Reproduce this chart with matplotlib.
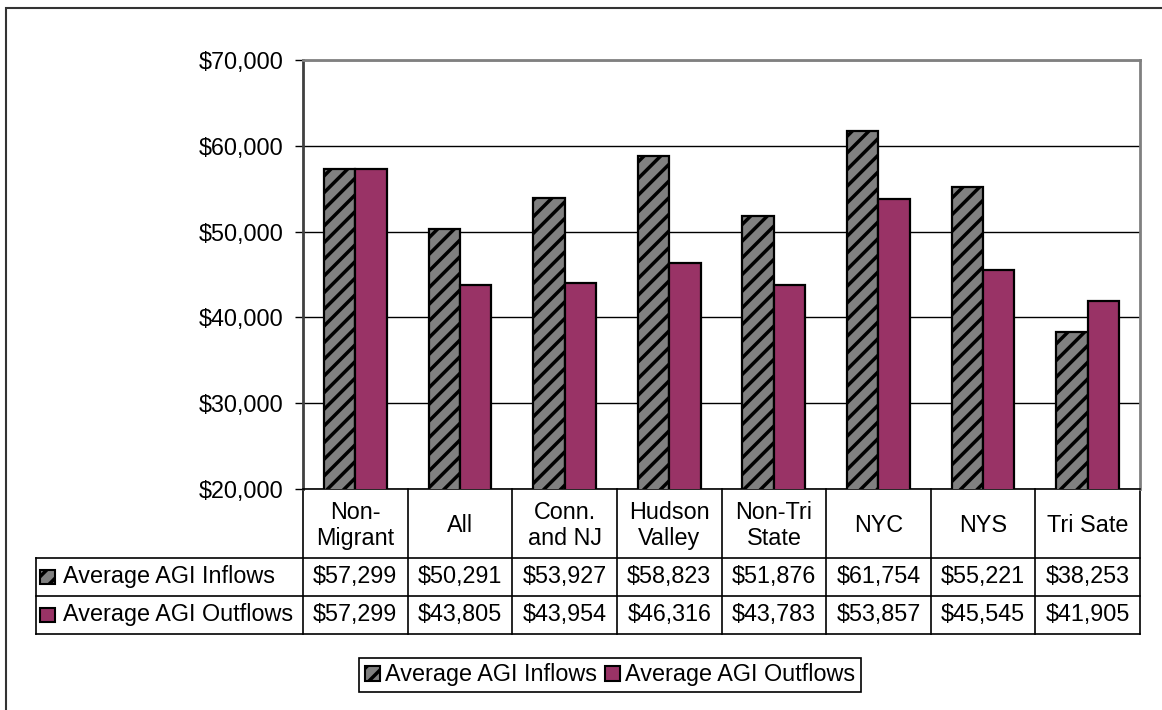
import matplotlib.pyplot as plt
from matplotlib.patches import Rectangle, Patch

categories = ["Non-\nMigrant", "All", "Conn.\nand NJ", "Hudson\nValley",
              "Non-Tri\nState", "NYC", "NYS", "Tri Sate"]
inflows = [57299, 50291, 53927, 58823, 51876, 61754, 55221, 38253]
outflows = [57299, 43805, 43954, 46316, 43783, 53857, 45545, 41905]
series = ["Average AGI Inflows", "Average AGI Outflows"]
yticks = [20000, 30000, 40000, 50000, 60000, 70000]

gray = '#808080'
plum = '#993366'
fs = 16.8

plt.rcParams['font.family'] = ['Liberation Sans', 'DejaVu Sans']
plt.rcParams['hatch.linewidth'] = 2.5

fig = plt.figure(figsize=(11.62, 7.10), dpi=100)
ax = fig.add_axes([303/1162, 1 - 489/710, 837/1162, 429/710])

x = list(range(len(categories)))
w = 0.3
ax.bar([i - w/2 for i in x], inflows, width=w, color=gray, edgecolor='black',
       hatch='//', linewidth=1.6, zorder=3)
ax.bar([i + w/2 for i in x], outflows, width=w, color=plum, edgecolor='black',
       linewidth=1.6, zorder=3)

ax.set_xlim(-0.5, len(categories) - 0.5)
ax.set_ylim(yticks[0], yticks[-1])
ax.set_yticks(yticks)
ax.set_yticklabels([f"${v:,}" for v in yticks])
ax.set_xticks([])
ax.yaxis.grid(True, color='black', linewidth=1)
ax.set_axisbelow(True)
ax.tick_params(axis='y', length=6, width=1, color='black', pad=8, labelsize=fs)

for s in ['top', 'right']:
    ax.spines[s].set_color(gray)
    ax.spines[s].set_linewidth(2)
ax.spines['left'].set_color('#404040')
ax.spines['left'].set_linewidth(2)
ax.spines['bottom'].set_color('black')
ax.spines['bottom'].set_linewidth(1.2)

# data table under the plot (axes coordinates)
n = len(categories)
y_h = -69/429
y_1 = -107/429
y_2 = -145/429
x_l = -267/837
kw = dict(transform=ax.transAxes, clip_on=False, color='black', linewidth=1.2)
for i in range(n + 1):
    ax.plot([i/n, i/n], [0, y_2], **kw)
ax.plot([x_l, x_l], [y_h, y_2], **kw)
for yy in [y_h, y_1, y_2]:
    ax.plot([x_l, 1], [yy, yy], **kw)

for i, c in enumerate(categories):
    ax.text((i + 0.5)/n, y_h/2 - 0.004, c, transform=ax.transAxes, ha='center',
            va='center', fontsize=fs, linespacing=1.15)
    ax.text((i + 0.5)/n, (y_h + y_1)/2, f"${inflows[i]:,}", transform=ax.transAxes,
            ha='center', va='center', fontsize=fs)
    ax.text((i + 0.5)/n, (y_1 + y_2)/2, f"${outflows[i]:,}", transform=ax.transAxes,
            ha='center', va='center', fontsize=fs)

kw_sq = dict(transform=ax.transAxes, clip_on=False, edgecolor='black', linewidth=1.5)
sq_w, sq_h = 15/837, 14/429
for (ya, yb), fc, h, lab in [((y_h, y_1), gray, '//', series[0]),
                             ((y_1, y_2), plum, None, series[1])]:
    yc = (ya + yb)/2
    ax.add_patch(Rectangle((-263/837, yc - sq_h/2), sq_w, sq_h, facecolor=fc,
                           hatch=h, **kw_sq))
    ax.text(-240/837, yc, lab, transform=ax.transAxes, ha='left', va='center',
            fontsize=fs)

handles = [Patch(facecolor=gray, edgecolor='black', hatch='//', linewidth=1.5),
           Patch(facecolor=plum, edgecolor='black', linewidth=1.5)]
leg = fig.legend(handles=handles, labels=series, loc='center',
                 bbox_to_anchor=(610/1162, 1 - 675/710), ncol=2, frameon=True,
                 fancybox=False, edgecolor='black', framealpha=1,
                 handlelength=0.65, handleheight=0.65, handletextpad=0.2,
                 columnspacing=0.35, borderpad=0.25, borderaxespad=0, fontsize=fs)
leg.get_frame().set_linewidth(1.2)

# outer chart border
fig.patches.append(Rectangle((6/1162, -0.1), 2, 1 - 8/710 + 0.1,
                             transform=fig.transFigure, fill=False,
                             edgecolor='#333333', linewidth=1.5))

fig.savefig('out.png', dpi=100)
